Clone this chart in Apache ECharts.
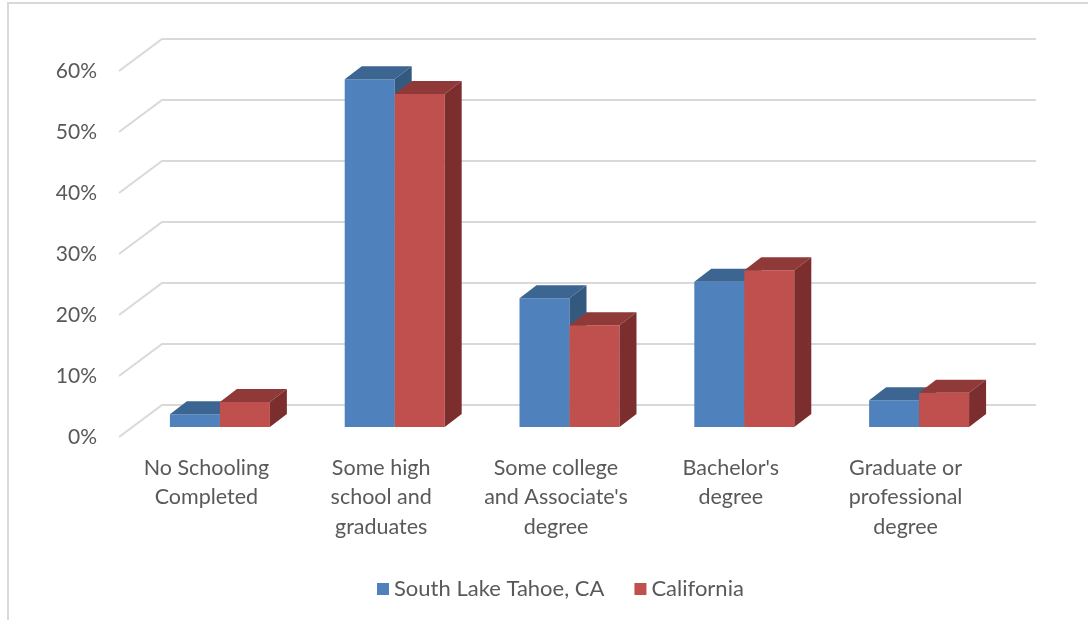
<!DOCTYPE html>
<html>
<head>
<meta charset="utf-8">
<script src="https://cdn.jsdelivr.net/npm/echarts@6/dist/echarts.min.js"></script>
<style>
    html, body { margin: 0; padding: 0; background: #fff; }
    #chart { width: 1088px; height: 620px; }
</style>
</head>
<body>
<div id="chart"></div>
<script>
"use strict";
var categories = [
    "No Schooling\nCompleted",
    "Some high\nschool and\ngraduates",
    "Some college\nand Associate's\ndegree",
    "Bachelor's\ndegree",
    "Graduate or\nprofessional\ndegree"
];
var seriesNames = ["South Lake Tahoe, CA", "California"];
var southLakeTahoe = [0.021, 0.570, 0.211, 0.238, 0.044];
var california = [0.041, 0.546, 0.167, 0.257, 0.056];
var yTicks = [0, 0.1, 0.2, 0.3, 0.4, 0.5, 0.6];

var chart = echarts.init(document.getElementById("chart"));

// colours: front face, top face, side face
var faces = [
    {front: "#4F81BD", top: "#3D6591", side: "#34597F"},
    {front: "#C0504D", top: "#8F3A38", side: "#7B2E2D"}
];
var textColor = "#595959";
var fontFamily = "Lato, 'Open Sans', sans-serif";

// oblique depth of the floor / back wall, and where the bars sit in it
var wallDx = 43, wallDy = -32;
var barShiftX = 13.5, barShiftY = -10;
var barDx = 17, barDy = -13;
var barRatio = 0.286;

function renderBar(params, api) {
    var idx = api.value(0);
    var base = api.coord([idx, 0]);
    var top = api.coord([idx, api.value(1)]);
    var bw = api.size([1, 0])[0] * barRatio;
    var x0 = base[0] + barShiftX + (params.seriesIndex === 1 ? -bw : 0);
    var yb = base[1] + barShiftY;
    var yt = top[1] + barShiftY;
    var c = faces[params.seriesIndex - 1];
    return {
        type: "group",
        children: [
            {
                type: "rect",
                shape: {x: x0, y: yt, width: bw, height: yb - yt},
                style: {fill: c.front}
            },
            {
                type: "polygon",
                shape: {points: [[x0, yt], [x0 + bw, yt], [x0 + bw + barDx, yt + barDy], [x0 + barDx, yt + barDy]]},
                style: {fill: c.top}
            },
            {
                type: "polygon",
                shape: {points: [[x0 + bw, yt], [x0 + bw + barDx, yt + barDy], [x0 + bw + barDx, yb + barDy], [x0 + bw, yb]]},
                style: {fill: c.side}
            }
        ]
    };
}

function renderGridLine(params, api) {
    var cs = params.coordSys;
    var y = api.coord([0, api.value(1)])[1];
    return {
        type: "polyline",
        shape: {points: [[cs.x, y], [cs.x + wallDx, y + wallDy], [cs.x + cs.width + wallDx, y + wallDy]]},
        style: {stroke: "#D9D9D9", lineWidth: 2, fill: null}
    };
}

var options = {
    animation: false,
    backgroundColor: "#fff",
    graphic: [{
        type: "rect",
        shape: {x: 8, y: 3, width: 1200, height: 700},
        style: {fill: null, stroke: "#D9D9D9", lineWidth: 2}
    }],
    grid: {
        left: 119,
        right: 95,
        top: 71,
        bottom: 183
    },
    legend: {
        left: 372,
        top: 573,
        itemWidth: 12,
        itemHeight: 12,
        itemGap: 30,
        icon: "rect",
        textStyle: {color: textColor, fontSize: 22, fontFamily: fontFamily},
        data: seriesNames
    },
    xAxis: {
        type: "category",
        data: categories,
        axisLine: {show: false},
        axisTick: {show: false},
        splitLine: {show: false},
        axisLabel: {
            color: textColor,
            fontSize: 21.5,
            fontFamily: fontFamily,
            lineHeight: 29.5,
            margin: 16,
            interval: 0
        }
    },
    yAxis: {
        type: "value",
        min: 0,
        max: 0.6,
        interval: 0.1,
        axisLine: {show: false},
        axisTick: {show: false},
        splitLine: {show: false},
        axisLabel: {
            color: textColor,
            fontSize: 21,
            fontFamily: fontFamily,
            margin: 22,
            formatter: function (v) {
                return Math.round(v * 100) + "%";
            }
        }
    },
    series: [
        {
            name: "grid",
            type: "custom",
            renderItem: renderGridLine,
            silent: true,
            z: 1,
            data: yTicks.map(function (v) { return [0, v]; })
        },
        {
            name: seriesNames[0],
            type: "custom",
            renderItem: renderBar,
            itemStyle: {color: faces[0].front},
            z: 2,
            data: southLakeTahoe.map(function (v, i) { return [i, v]; })
        },
        {
            name: seriesNames[1],
            type: "custom",
            renderItem: renderBar,
            itemStyle: {color: faces[1].front},
            z: 3,
            data: california.map(function (v, i) { return [i, v]; })
        }
    ]
};

chart.setOption(options);
</script>
</body>
</html>
